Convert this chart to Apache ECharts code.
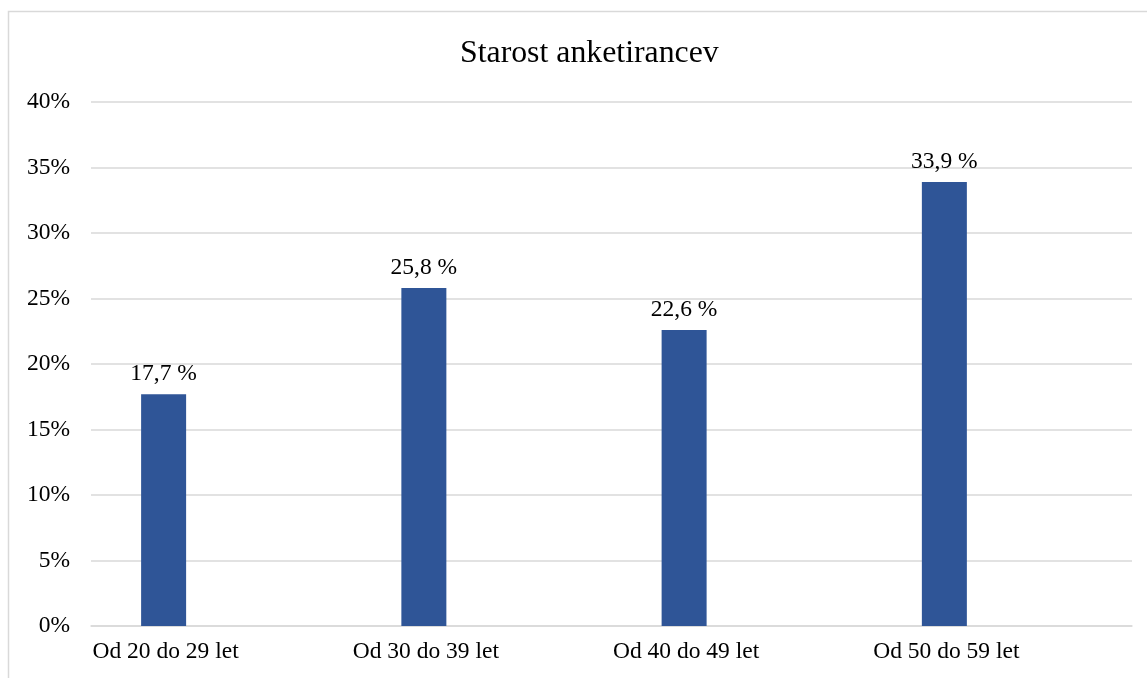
<!DOCTYPE html>
<html>
<head>
<meta charset="utf-8">
<script src="https://cdn.jsdelivr.net/npm/echarts@6/dist/echarts.min.js"></script>
<style>
  html, body { margin: 0; padding: 0; background: #ffffff; }
  #chart { width: 1147px; height: 678px; }
</style>
</head>
<body>
<div id="chart"></div>
<script>
// Age groups of survey respondents and their share (%)
const categories = ['Od 20 do 29 let', 'Od 30 do 39 let', 'Od 40 do 49 let', 'Od 50 do 59 let'];
const shares = [17.7, 25.8, 22.6, 33.9];
const yTicks = [0, 5, 10, 15, 20, 25, 30, 35, 40];

const FONT = '"Liberation Serif", "Times New Roman", serif';
const chart = echarts.init(document.getElementById('chart'), null, { renderer: 'canvas' });

chart.setOption({
  backgroundColor: '#ffffff',
  animation: false,
  title: {
    text: 'Starost anketirancev',
    left: 455,
    top: 33,
    textStyle: { fontFamily: FONT, fontSize: 31.8, fontWeight: 'normal', color: '#000000' }
  },
  graphic: [{
    type: 'rect',
    shape: { x: 8.5, y: 11.5, width: 1160, height: 700 },
    style: { fill: 'none', stroke: '#d9d9d9', lineWidth: 1.5 },
    silent: true
  }],
  grid: { left: 91, right: 15, top: 102, bottom: 52, containLabel: false },
  xAxis: {
    type: 'category',
    data: categories,
    axisLine: { show: true, lineStyle: { color: '#d9d9d9', width: 1.5 } },
    axisTick: { show: false },
    axisLabel: {
      fontFamily: FONT, fontSize: 23.5, color: '#000000', margin: 14,
      padding: [0, 111, 0, 0]
    }
  },
  yAxis: {
    type: 'value',
    min: yTicks[0],
    max: yTicks[yTicks.length - 1],
    interval: 5,
    axisLine: { show: false },
    axisTick: { show: false },
    splitLine: { lineStyle: { color: '#d9d9d9', width: 1.5 } },
    axisLabel: {
      fontFamily: FONT, fontSize: 23.5, color: '#000000', margin: 21,
      formatter: v => v + '%'
    }
  },
  series: [
    {
      name: 'Delež',
      type: 'bar',
      data: shares,
      barWidth: 45,
      barGap: '155.6%',
      itemStyle: { color: '#2f5597' },
      label: {
        show: true,
        position: 'top',
        distance: 8,
        fontFamily: FONT, fontSize: 23.5, color: '#000000',
        formatter: p => p.value.toFixed(1).replace('.', ',') + ' %'
      }
    },
    {
      name: 'prazno',
      type: 'bar',
      data: categories.map(() => null),
      barWidth: 45
    }
  ]
});
</script>
</body>
</html>
